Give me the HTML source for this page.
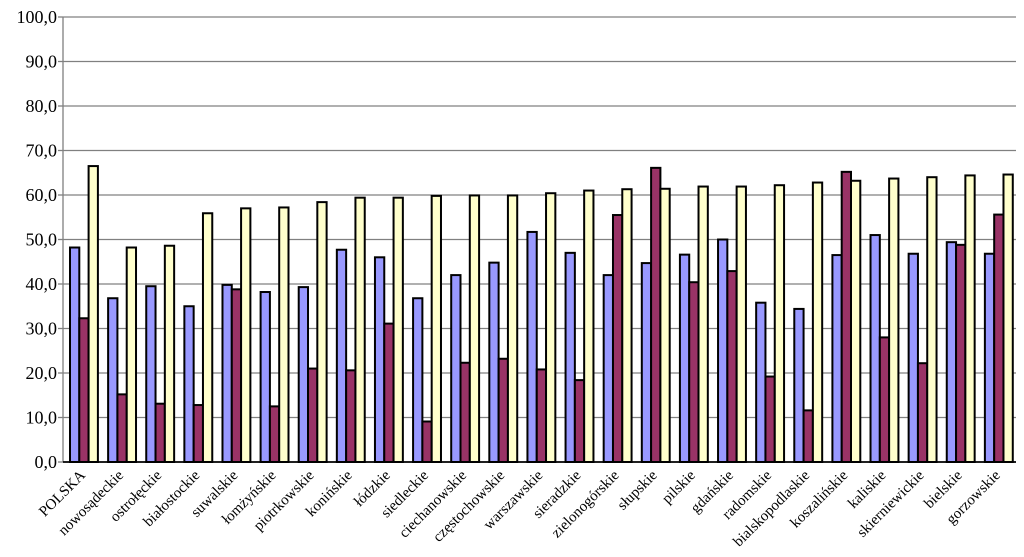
<!DOCTYPE html>
<html><head><meta charset="utf-8"><style>
body{margin:0;background:#fff}
svg{display:block;font-family:"Liberation Serif","Times New Roman",serif}
text{font-family:"Liberation Serif","Times New Roman",serif}
</style></head><body>
<svg id="chart" width="1024" height="557"></svg>
<script>
const categories=["POLSKA","nowosądeckie","ostrołęckie","białostockie","suwalskie","łomżyńskie","piotrkowskie","konińskie","łódzkie","siedleckie","ciechanowskie","częstochowskie","warszawskie","sieradzkie","zielonogórskie","słupskie","pilskie","gdańskie","radomskie","bialskopodlaskie","koszalińskie","kaliskie","skierniewickie","bielskie","gorzowskie"];
const seriesBlue=[48.2,36.8,39.5,35.0,39.8,38.2,39.3,47.7,46.0,36.8,42.0,44.8,51.7,47.0,42.0,44.7,46.6,50.0,35.8,34.4,46.5,51.0,46.8,49.4,46.8];
const seriesRed=[32.3,15.2,13.1,12.8,38.8,12.5,21.0,20.6,31.1,9.1,22.3,23.2,20.8,18.4,55.5,66.1,40.4,42.9,19.2,11.6,65.2,28.0,22.2,48.8,55.6];
const seriesYellow=[66.5,48.2,48.6,55.9,57.0,57.2,58.4,59.4,59.4,59.8,59.9,59.9,60.4,61.0,61.3,61.4,61.9,61.9,62.2,62.8,63.2,63.7,64.0,64.4,64.6];
const tickLabels=["0,0","10,0","20,0","30,0","40,0","50,0","60,0","70,0","80,0","90,0","100,0"];
const tickValues=[0,10,20,30,40,50,60,70,80,90,100];

const svg=document.getElementById('chart');
const NS='http://www.w3.org/2000/svg';
const FF='"Liberation Serif","Times New Roman",serif';
const X0=63,X1=1016,Y0=462,Y1=17;
const gw=(X1-X0)/categories.length;
const y=v=>Y0-(v/100)*(Y0-Y1);
const gx=i=>X0+i*gw;
function mk(t,a){const e=document.createElementNS(NS,t);for(const k in a)e.setAttribute(k,a[k]);svg.appendChild(e);return e;}
tickValues.forEach((v,i)=>{
  if(v>0){const g=mk('line',{x1:X0,x2:X1,y1:y(v),y2:y(v),stroke:'#808080','stroke-width':1.3});
  
  }
  const tk=mk('line',{x1:X0-5,x2:X0,y1:y(v),y2:y(v),stroke:'#808080','stroke-width':1.3});
  
  
  const t=mk('text',{x:X0-6,y:y(v)+6,'text-anchor':'end','font-size':18,fill:'#000','font-family':FF});
  t.textContent=tickLabels[i];
  
  
});
const ax=mk('line',{x1:X0,x2:X0,y1:Y1,y2:Y0,stroke:'#808080','stroke-width':1.3});


const bw=9.3;
const series=[[seriesBlue,'#9999ff','blue'],[seriesRed,'#993366','red'],[seriesYellow,'#ffffcc','yellow']];
categories.forEach((c,i)=>{
  series.forEach((s,j)=>{
    const v=s[0][i];
    const r=mk('rect',{x:gx(i)+7+j*bw,y:y(v),width:bw,height:Y0-y(v),fill:s[1],stroke:'#000','stroke-width':2});
    
    
  });
  const cx=gx(i)+gw/2+4, cy=Y0+14;
  const t=mk('text',{x:cx,y:cy,'text-anchor':'end','font-size':15,fill:'#000','font-family':FF,transform:`rotate(-45 ${cx} ${cy})`});
  t.textContent=c;
  
  
});
const bx=mk('line',{x1:X0,x2:X1,y1:Y0,y2:Y0,stroke:'#000','stroke-width':1.8});


</script>
</body></html>
